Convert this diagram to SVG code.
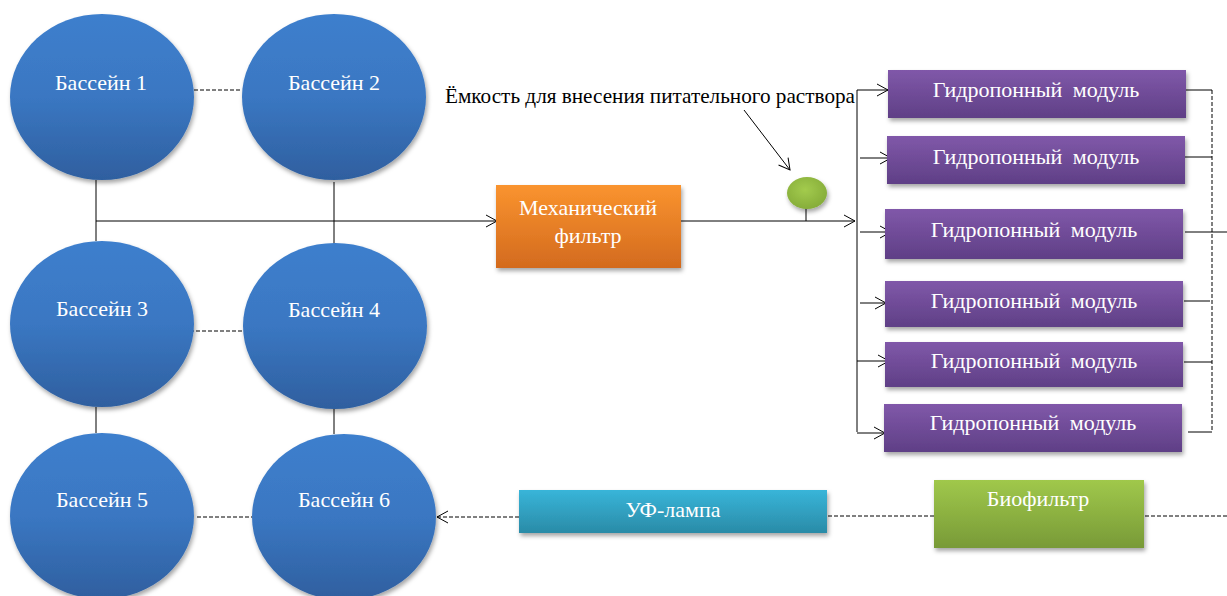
<svg xmlns="http://www.w3.org/2000/svg" width="1227" height="596" viewBox="0 0 1227 596">
<style>
  .t { font-family: "Liberation Serif", "DejaVu Serif", serif; fill: #ffffff; text-anchor: middle; }
  .b { font-size: 22px; }
  .m { font-size: 22px; word-spacing: 5px; }
  .lbl { font-family: "Liberation Serif", "DejaVu Serif", serif; font-size: 22px; fill: #000000; }
  .ln { stroke: #000000; stroke-width: 1; fill: none; }
  .ds { stroke: #000000; stroke-width: 1; fill: none; stroke-dasharray: 4 2; }
</style>
<defs>
  <linearGradient id="gBlue" x1="0" y1="0" x2="0" y2="1">
    <stop offset="0" stop-color="#3e7fcd"/>
    <stop offset="0.5" stop-color="#3a77c2"/>
    <stop offset="1" stop-color="#2f5f9f"/>
  </linearGradient>
  <linearGradient id="gOrange" x1="0" y1="0" x2="0" y2="1">
    <stop offset="0" stop-color="#fa942f"/>
    <stop offset="1" stop-color="#d36a1e"/>
  </linearGradient>
  <linearGradient id="gPurple" x1="0" y1="0" x2="0" y2="1">
    <stop offset="0" stop-color="#8058a9"/>
    <stop offset="1" stop-color="#5f3f86"/>
  </linearGradient>
  <linearGradient id="gCyan" x1="0" y1="0" x2="0" y2="1">
    <stop offset="0" stop-color="#38b5d9"/>
    <stop offset="1" stop-color="#2a8ba7"/>
  </linearGradient>
  <linearGradient id="gGreen" x1="0" y1="0" x2="0" y2="1">
    <stop offset="0" stop-color="#a0c84b"/>
    <stop offset="1" stop-color="#789a37"/>
  </linearGradient>
  <radialGradient id="gDot" cx="0.45" cy="0.4" r="0.6">
    <stop offset="0" stop-color="#a3cb4d"/>
    <stop offset="1" stop-color="#86ad3a"/>
  </radialGradient>
  <filter id="sh" x="-10%" y="-10%" width="125%" height="130%">
    <feDropShadow dx="1.5" dy="3" stdDeviation="2" flood-color="#000000" flood-opacity="0.35"/>
  </filter>
  <marker id="arr" markerUnits="userSpaceOnUse" markerWidth="14" markerHeight="14" viewBox="0 0 14 14" refX="12" refY="7" orient="auto">
    <path d="M1,1 L12,7 L1,13" fill="none" stroke="#000000" stroke-width="1"/>
  </marker>
</defs>

<g id="connectors">
  <path class="ln" d="M96,180 V241"/>
  <path class="ln" d="M334,182 V244"/>
  <path class="ln" d="M96,221 H497" marker-end="url(#arr)"/>
  <path class="ds" d="M194,90 H242"/>
  <path class="ds" d="M190,331 H243"/>
  <path class="ln" d="M96,407 V433"/>
  <path class="ln" d="M334,408 V434"/>
  <path class="ds" d="M197,517 H252"/>
  <path class="ln" d="M681,221 H855" marker-end="url(#arr)"/>
  <path class="ln" d="M806,208 V221"/>
  <path class="ln" d="M744,110 L790,170" marker-end="url(#arr)"/>
  <path class="ln" d="M857,90 V432"/>
  <path class="ln" d="M857,90 H888" marker-end="url(#arr)"/>
  <path class="ln" d="M860,158 H891" marker-end="url(#arr)"/>
  <path class="ln" d="M860,232 H891" marker-end="url(#arr)"/>
  <path class="ln" d="M860,303 H886" marker-end="url(#arr)"/>
  <path class="ln" d="M857,361 H889" marker-end="url(#arr)"/>
  <path class="ln" d="M857,433 H885" marker-end="url(#arr)"/>
  <path class="ln" d="M1186,90 H1212"/>
  <path class="ln" d="M1185,157 H1212"/>
  <path class="ln" d="M1185,232 H1227"/>
  <path class="ln" d="M1184,301 H1210"/>
  <path class="ln" d="M1184,362 H1212"/>
  <path class="ln" d="M1188,432 H1212"/>
  <path class="ds" d="M1212,90 V432"/>
  <path class="ds" d="M1227,516 H1144"/>
  <path class="ds" d="M934,516 H827"/>
  <path class="ds" d="M519,517 H437" marker-end="url(#arr)"/>
</g>

<g id="basin1"><ellipse cx="102" cy="97" rx="92" ry="83" fill="url(#gBlue)" filter="url(#sh)"/><text class="t b" x="101" y="90">Бассейн 1</text></g>
<g id="basin2"><ellipse cx="334" cy="97" rx="92" ry="83" fill="url(#gBlue)" filter="url(#sh)"/><text class="t b" x="334" y="90">Бассейн 2</text></g>
<g id="basin3"><ellipse cx="102" cy="324" rx="92" ry="83" fill="url(#gBlue)" filter="url(#sh)"/><text class="t b" x="102" y="316">Бассейн 3</text></g>
<g id="basin4"><ellipse cx="335" cy="326" rx="92" ry="83" fill="url(#gBlue)" filter="url(#sh)"/><text class="t b" x="334" y="317">Бассейн 4</text></g>
<g id="basin5"><ellipse cx="102" cy="516" rx="92" ry="83" fill="url(#gBlue)" filter="url(#sh)"/><text class="t b" x="102" y="507">Бассейн 5</text></g>
<g id="basin6"><ellipse cx="344" cy="517" rx="92" ry="83" fill="url(#gBlue)" filter="url(#sh)"/><text class="t b" x="344" y="507">Бассейн 6</text></g>

<g id="mech-filter"><rect x="496" y="185" width="185" height="83" fill="url(#gOrange)" filter="url(#sh)"/><text class="t b" x="588" y="215">Механический</text><text class="t b" x="588" y="243">фильтр</text></g>

<g id="nutrient-tank"><ellipse cx="807" cy="193" rx="20" ry="16" fill="url(#gDot)" filter="url(#sh)"/></g>
<g id="nutrient-label"><text class="lbl" x="445" y="103" textLength="410" lengthAdjust="spacingAndGlyphs">Ёмкость для внесения питательного раствора</text></g>

<g id="module1"><rect x="888" y="70" width="298" height="48" fill="url(#gPurple)" filter="url(#sh)"/><text class="t m" x="1036" y="97">Гидропонный модуль</text></g>
<g id="module2"><rect x="887" y="136" width="298" height="48" fill="url(#gPurple)" filter="url(#sh)"/><text class="t m" x="1036" y="164">Гидропонный модуль</text></g>
<g id="module3"><rect x="885" y="209" width="298" height="50" fill="url(#gPurple)" filter="url(#sh)"/><text class="t m" x="1034" y="237">Гидропонный модуль</text></g>
<g id="module4"><rect x="885" y="281" width="298" height="46" fill="url(#gPurple)" filter="url(#sh)"/><text class="t m" x="1034" y="308">Гидропонный модуль</text></g>
<g id="module5"><rect x="885" y="342" width="298" height="45" fill="url(#gPurple)" filter="url(#sh)"/><text class="t m" x="1034" y="368">Гидропонный модуль</text></g>
<g id="module6"><rect x="884" y="404" width="298" height="48" fill="url(#gPurple)" filter="url(#sh)"/><text class="t m" x="1033" y="430">Гидропонный модуль</text></g>

<g id="uv-lamp"><rect x="519" y="490" width="308" height="43" fill="url(#gCyan)" filter="url(#sh)"/><text class="t b" x="673" y="517">УФ-лампа</text></g>
<g id="biofilter"><rect x="934" y="480" width="210" height="68" fill="url(#gGreen)" filter="url(#sh)"/><text class="t b" x="1038" y="506">Биофильтр</text></g>
</svg>
